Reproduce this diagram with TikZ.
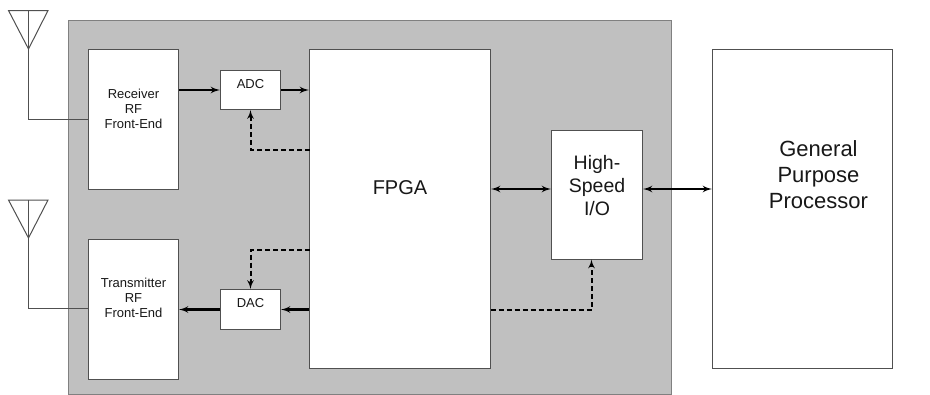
\documentclass[tikz,border=0pt]{standalone}
\usepackage{fontspec}
\setmainfont{Liberation Sans}
\usepackage{tikz}
\usetikzlibrary{arrows,positioning}
\definecolor{boardgray}{HTML}{C0C0C0}
\definecolor{edgegray}{HTML}{505050}
\definecolor{labelgray}{HTML}{181818}
\tikzset{line/.style={draw, line width=2.2pt, -latex'}}
\tikzset{both/.style={draw, line width=2.2pt, latex'-latex'}}
\tikzset{control/.style={draw, line width=2pt, dash pattern=on 5pt off 3pt, -latex'}}
\tikzset{wire/.style={draw, line width=1pt, edgegray}}

\begin{document}
\begin{tikzpicture}[x=1pt,y=1pt]
\tikzstyle{block} = [rectangle, draw=edgegray, line width=1pt, fill=white, text=labelgray, align=center, inner sep=0pt]
\tikzstyle{front} = [block, minimum width=90pt, minimum height=140pt, font=\fontsize{13}{15}\selectfont]
\tikzstyle{conv} = [block, minimum width=60pt, minimum height=40pt, font=\fontsize{13}{15}\selectfont]
\useasboundingbox (0,0) rectangle (930,-394);

% board
    \node [rectangle, draw=gray, line width=1pt, fill=boardgray, minimum width=603pt, minimum height=374pt, inner sep=0pt] (board) at (370,-207.5) {};
% blocks
    % receive
    \node [front] (receiver) at (133.5,-119.5) {Receiver\\RF\\Front-End\\[7pt]~};
    \node [conv, right=41pt of receiver, yshift=29.5pt, minimum height=39pt] (adc) {ADC\\[-2pt]~};
    % transmit
    \node [front, below=49pt of receiver] (transmitter) {Transmitter\\RF\\Front-End\\[8pt]~};
    \node [conv, right=41pt of transmitter] (dac) {DAC\\[-2pt]~};
    % fpga
    \node [block, minimum width=181pt, minimum height=319pt, font=\fontsize{20}{24}\selectfont] (fpga) at (400,-209) {FPGA\\[18pt]~};
    \node [block, right=60pt of fpga, yshift=14pt, minimum width=91pt, minimum height=129pt, font=\fontsize{19.5}{23}\selectfont] (io) {High-\\Speed\\I/O\\[-3pt]~};
    \node [block, right=221pt of fpga, minimum width=180pt, minimum height=319pt, label={[text=labelgray, align=center, font=\fontsize{22}{26}\selectfont, xshift=16pt, yshift=34pt]center:General\\Purpose\\Processor}] (gpp) {};
    % antennas
    \coordinate (ant1 left) at (8.5,-10.5);
    \coordinate (ant1 top) at (28.5,-10.5);
    \coordinate (ant1 right) at (48,-10.5);
    \coordinate (ant1 tip) at (28.5,-49);
    \coordinate (ant2 left) at (8.5,-200);
    \coordinate (ant2 top) at (28.5,-200);
    \coordinate (ant2 right) at (48,-200);
    \coordinate (ant2 tip) at (28.5,-238);
    \coordinate (tx feed) at (88.5,-308.5);
    % control points
    \coordinate (fpga adc) at (309.5,-149.5);
    \coordinate (fpga dac) at (309.5,-249.5);
    \coordinate (fpga io) at (490.5,-309.5);
    \coordinate (io ctrl) at (591.5,-259.5);
    \coordinate (io link) at (596,-189);
% arrows
    % antennas
    \path [wire] (ant1 left) -- (ant1 right) -- (ant1 tip) -- cycle;
    \path [wire] (ant1 top) -- (ant1 tip) |- (receiver.west);
    \path [wire] (ant2 left) -- (ant2 right) -- (ant2 tip) -- cycle;
    \path [wire] (ant2 top) -- (ant2 tip) |- (tx feed);
    % data
    \path [line] (receiver.east|-adc) -- (adc.west);
    \path [line] (adc.east) -- (fpga.west|-adc);
    \path [line] (fpga.west|-dac) -- (dac.east);
    \path [line] (dac.west) -- (transmitter.east|-dac);
    \path [both] (fpga.east|-io link) -- (io.west|-io link);
    \path [both] (io.east|-io link) -- (gpp.west|-io link);
    % control
    \path [control] (fpga adc) -| (adc.south);
    \path [control] (fpga dac) -| (dac.north);
    \path [control] (fpga io) -| (io ctrl);
\end{tikzpicture}
\end{document}
